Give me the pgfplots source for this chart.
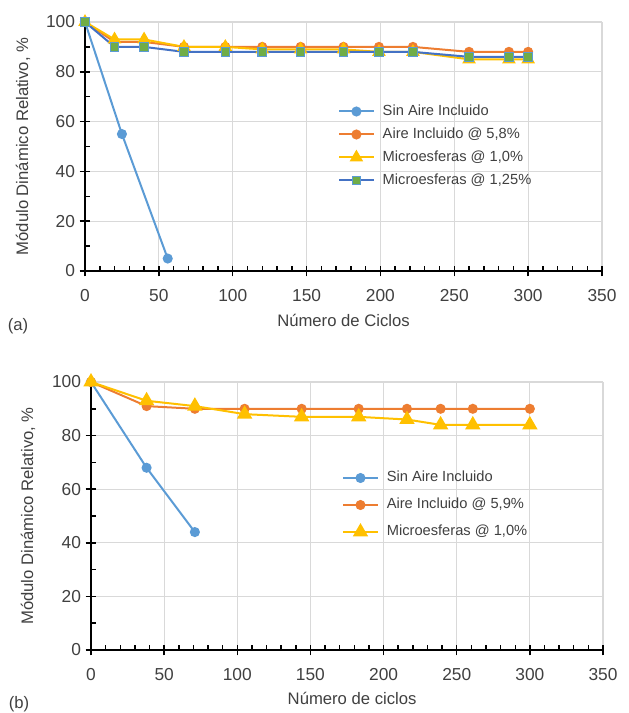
\documentclass[border=0pt]{standalone}
\usepackage{fontspec}
\setmainfont{Liberation Sans}
\usepackage{pgfplots}
\pgfplotsset{compat=1.18}
\definecolor{cBlue}{HTML}{5B9BD5}
\definecolor{cOrange}{HTML}{ED7D31}
\definecolor{cYellow}{HTML}{FFC000}
\definecolor{cDark}{HTML}{4472C4}
\definecolor{cGreen}{HTML}{70AD47}
\definecolor{txt}{HTML}{404040}
\definecolor{gridc}{HTML}{D9D9D9}
\pgfplotsset{
  myaxis/.style={
    scale only axis, xmin=0, xmax=350, ymin=0, ymax=100,
    xtick={0,50,...,350}, ytick={0,20,...,100},
    minor x tick num=4, minor y tick num=1,
    axis x line*=bottom, axis y line*=left,
    axis line style={-, line width=1.6pt, black},
    tick align=center,
    major tick length=8pt, minor tick length=3.4pt,
    tick style={black, line width=1.1pt},
    minor x tick style={yshift=1.7pt},
    minor y tick style={xshift=1.7pt},
    grid=major, grid style={gridc, line width=0.8pt},
    /pgf/number format/assume math mode=true,
    tick label style={font=\fontsize{13}{15}\selectfont, text=txt},
    x tick label style={yshift=-6pt},
    label style={font=\fontsize{12.5}{14}\selectfont, text=txt},
    legend cell align=left,
    legend image code/.code={\draw[##1, mark repeat=2, mark phase=2] plot coordinates {(0pt,0pt) (13pt,0pt) (26pt,0pt)};},
    every axis plot/.append style={line width=1.5pt},
  },
  sinaire/.style={color=cBlue, mark=*, mark size=3pt, mark options={fill=cBlue, draw=cBlue}},
  aire/.style={color=cOrange, mark=*, mark size=3pt, mark options={fill=cOrange, draw=cOrange}},
  micro/.style={color=cYellow, mark=triangle*, mark size=4.4pt, mark options={fill=cYellow, draw=cYellow}},
  microb/.style={color=cDark, mark=square*, mark size=3.2pt, mark options={fill=cGreen, draw=cBlue, line width=0.8pt}},
}
\begin{document}
\begin{tikzpicture}
\useasboundingbox (0,0) rectangle (471pt,534.75pt);
% ---------------- panel (a)
\begin{axis}[myaxis,
  at={(63.75pt,331.5pt)}, anchor=south west,
  width=387.75pt, height=186.75pt,
  xlabel={Número de Ciclos},
  ylabel={Módulo Dinámico Relativo, \%},
  x label style={at={(axis description cs:0.5,-0.197)}, anchor=center},
  y label style={at={(axis description cs:-0.12,0.5)}, anchor=center},
  legend style={draw=none, fill=none, at={(0.489,0.502)}, anchor=west, inner sep=0pt,
    font=\fontsize{11}{13}\selectfont, text=txt, row sep=4.75pt,
    nodes={inner sep=1pt, text height=8pt, text depth=2.5pt},
    /tikz/every odd column/.append style={column sep=5pt}},
]
\addplot[sinaire] coordinates {(0,100) (25,55) (56,5)};
\addlegendentry{Sin Aire Incluido}
\addplot[aire] coordinates {(0,100) (20,92) (40,92) (67,90) (95,90) (120,90) (146,90) (175,90) (199,90) (222,90) (260,88) (287,88) (300,88)};
\addlegendentry{Aire Incluido @ 5,8\%}
\addplot[micro] coordinates {(0,100) (20,93) (40,93) (67,90) (95,90) (120,89) (146,89) (175,89) (199,88) (222,88) (260,85) (287,85) (300,85)};
\addlegendentry{Microesferas @ 1,0\%}
\addplot[microb] coordinates {(0,100) (20,90) (40,90) (67,88) (95,88) (120,88) (146,88) (175,88) (199,88) (222,88) (260,86) (287,86) (300,86)};
\addlegendentry{Microesferas @ 1,25\%}
\end{axis}
\node[font=\fontsize{12.5}{14}\selectfont, text=txt] at (13.5pt,290.25pt) {(a)};
% ---------------- panel (b)
\begin{axis}[myaxis,
  at={(68.25pt,47.25pt)}, anchor=south west,
  width=384pt, height=201pt,
  xlabel={Número de ciclos},
  ylabel={Módulo Dinámico Relativo, \%},
  x label style={at={(axis description cs:0.51,-0.179)}, anchor=center},
  y label style={at={(axis description cs:-0.123,0.5)}, anchor=center},
  legend style={draw=none, fill=none, at={(0.490,0.541)}, anchor=west, inner sep=0pt,
    font=\fontsize{11}{13}\selectfont, text=txt, row sep=7.75pt,
    nodes={inner sep=1pt, text height=8pt, text depth=2.5pt},
    /tikz/every odd column/.append style={column sep=5pt}},
]
\addplot[sinaire] coordinates {(0,100) (38,68) (71,44)};
\addlegendentry{Sin Aire Incluido}
\addplot[aire] coordinates {(0,100) (38,91) (71,90) (105,90) (144,90) (183,90) (216,90) (239,90) (261,90) (300,90)};
\addlegendentry{Aire Incluido @ 5,9\%}
\addplot[micro, mark size=5.2pt] coordinates {(0,100) (38,93) (71,91) (105,88) (144,87) (183,87) (216,86) (239,84) (261,84) (300,84)};
\addlegendentry{Microesferas @ 1,0\%}
\end{axis}
\node[font=\fontsize{12.5}{14}\selectfont, text=txt] at (14.25pt,6.5pt) {(b)};
\end{tikzpicture}
\end{document}
